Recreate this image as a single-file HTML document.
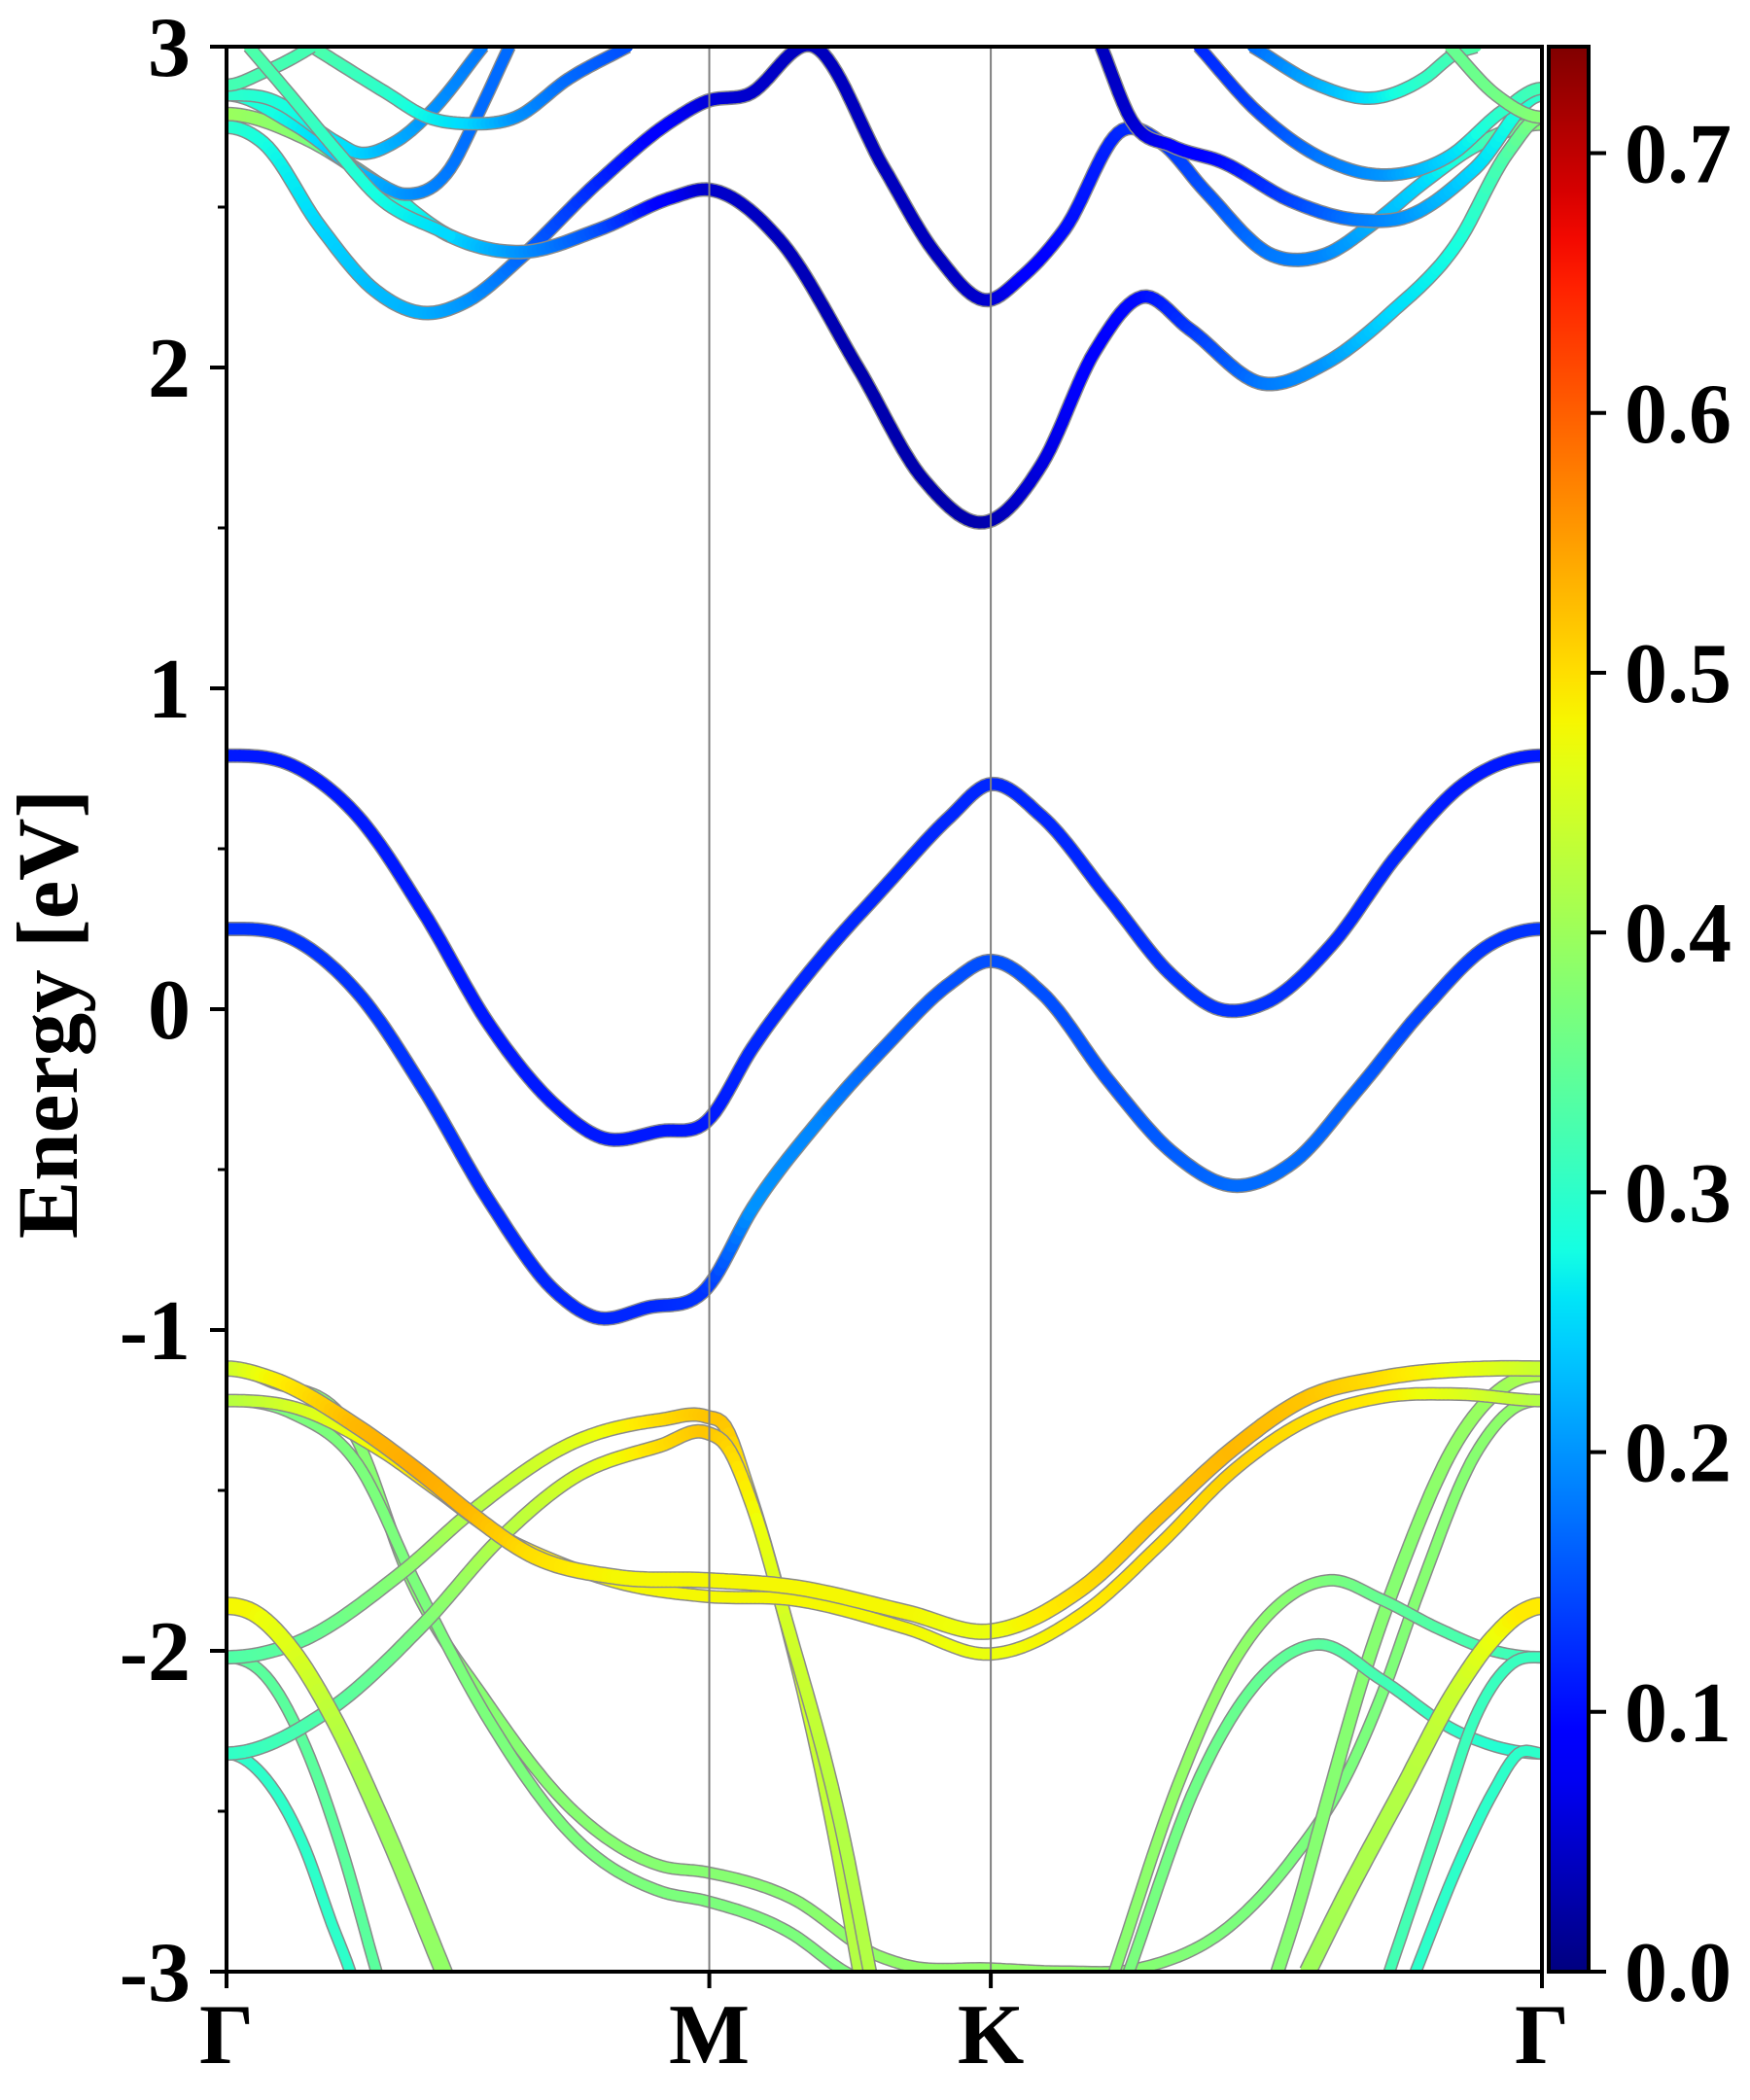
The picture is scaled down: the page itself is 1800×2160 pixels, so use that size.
<!DOCTYPE html>
<html><head><meta charset="utf-8"><style>
html,body{margin:0;padding:0;background:#fff;}
svg{display:block;}
text{font-family:"Liberation Serif",serif;font-weight:bold;fill:#000;}
</style></head><body>
<svg id="chart" width="1800" height="2160" viewBox="0 0 1800 2160" xmlns="http://www.w3.org/2000/svg">
<defs>
<clipPath id="plotclip"><rect x="233" y="48" width="1353" height="1980"/></clipPath>
<linearGradient id="jetgrad" x1="0" y1="1" x2="0" y2="0"></linearGradient>
</defs>
<g id="bands" clip-path="url(#plotclip)"></g>
<g id="axes"></g>
</svg>
<script>
// ---- axis ranges / path nodes ----
const yMin = -3, yMax = 3;
const yTicks = [-3, -2, -1, 0, 1, 2, 3];
const yTickLabels = ["-3", "-2", "-1", "0", "1", "2", "3"];
const kNodes = [0, 0.367, 0.581, 1];
const kNodeLabels = ["Γ", "M", "K", "Γ"];
const cbMax = 0.741;
const cbTicks = [0, 0.1, 0.2, 0.3, 0.4, 0.5, 0.6, 0.7];
const cbTickLabels = ["0.0", "0.1", "0.2", "0.3", "0.4", "0.5", "0.6", "0.7"];

// ---- conduction bands ----
const cb1K = [0,.05,.1,.15,.2,.25,.28,.32,.365,.40,.45,.5,.55,.579,.62,.67,.72,.765,.81,.86,.91,.96,1];
const cb1E = [.25,.22,.05,-.25,-.6,-.88,-.96,-.93,-.87,-.62,-.35,-.12,.08,.15,.05,-.22,-.45,-.55,-.48,-.25,0,.2,.25];
const cb1W = [.13,.13,.13,.13,.12,.12,.12,.12,.13,.2,.19,.16,.15,.15,.15,.15,.16,.17,.17,.16,.14,.13,.13];
const cb2K = [0,.05,.1,.15,.2,.25,.285,.33,.365,.40,.45,.5,.55,.579,.62,.67,.72,.755,.79,.84,.89,.94,1];
const cb2E = [.79,.76,.6,.3,-.05,-.3,-.4,-.38,-.35,-.12,.15,.38,.6,.7,.6,.35,.1,0,.02,.2,.48,.7,.79];
const cb2W = [.11,.11,.11,.11,.11,.11,.11,.11,.11,.12,.12,.12,.12,.12,.12,.12,.13,.13,.13,.12,.12,.11,.11];
const tbAK = [0,.028,.071,.113,.150,.184,.223,.283,.339,.365,.396,.447,.5,.54,.579,.604,.637,.681,.711,.744,.795,.834,.872,.911,.949,1];
const tbAE = [2.75,2.70,2.44,2.24,2.17,2.21,2.34,2.58,2.77,2.83,2.85,3.0,2.62,2.35,2.21,2.28,2.43,2.74,2.70,2.55,2.35,2.35,2.45,2.58,2.69,2.76];
const tbAW = [.3,.28,.25,.23,.22,.2,.17,.12,.08,.06,.05,.04,.04,.04,.05,.08,.1,.12,.13,.15,.18,.19,.22,.25,.3,.38];
const tbBK = [0,.057,.113,.170,.223,.283,.339,.365,.42,.48,.53,.579,.62,.66,.696,.732,.788,.834,.885,.936,.974,1];
const tbBE = [2.79,2.72,2.58,2.41,2.36,2.43,2.53,2.555,2.40,2.0,1.65,1.52,1.7,2.05,2.22,2.12,1.95,2.01,2.17,2.39,2.67,2.78];
const tbBW = [.4,.38,.3,.25,.2,.15,.08,.05,.04,.03,.03,.03,.06,.09,.1,.13,.18,.2,.25,.28,.33,.38];
const tbCK = [0,.05,.113,.136,.17,.19,.215];
const tbCE = [2.85,2.76,2.58,2.54,2.62,2.78,3.0];
const tbCW = [.3,.27,.22,.2,.18,.17,.17];
const tbDK = [0,.03,.085,.099,.127,.156,.195];
const tbDE = [2.85,2.84,2.70,2.67,2.70,2.80,3.0];
const tbDW = [.3,.29,.26,.25,.22,.2,.18];
const tbEK = [.065,.12,.153,.184,.22,.26,.305];
const tbEE = [3.0,2.86,2.78,2.76,2.78,2.9,3.0];
const tbEW = [.33,.3,.27,.25,.2,.17,.15];
const tbFK = [0,.028,.057,.065];
const tbFE = [2.88,2.92,2.98,3.0];
const tbFW = [.32,.32,.32,.32];
const tbGK = [.017,.042,.085,.113,.17];
const tbGE = [3.0,2.88,2.67,2.54,2.41];
const tbGW = [.33,.32,.3,.28,.25];
const trDK = [.665,.688,.719,.757,.809,.86,.897,.949,1];
const trDE = [3.0,2.77,2.69,2.64,2.52,2.46,2.47,2.62,2.85];
const trDW = [.04,.05,.08,.1,.14,.18,.2,.25,.3];
const tr1K = [.739,.783,.834,.88,.93,.97,1];
const tr1E = [3.0,2.8,2.65,2.6,2.66,2.8,2.87];
const tr1W = [.12,.14,.18,.2,.25,.3,.32];
const tr2K = [.78,.83,.872,.91,.935,.95];
const tr2E = [3.0,2.88,2.84,2.9,2.98,3.0];
const tr2W = [.17,.22,.26,.3,.32,.33];
const tr3K = [.93,.965,1];
const tr3E = [3.0,2.85,2.78];
const tr3W = [.35,.36,.38];

// ---- valence bands ----
const v1K = [0,.033,.099,.149,.185,.231,.297,.365,.429,.517,.579,.652,.709,.765,.822,.878,.963,1];
const v1E = [-1.12,-1.15,-1.30,-1.45,-1.57,-1.70,-1.77,-1.78,-1.80,-1.88,-1.94,-1.80,-1.58,-1.37,-1.21,-1.15,-1.12,-1.12];
const v1W = [.44,.48,.53,.54,.53,.5,.48,.48,.48,.48,.47,.5,.52,.53,.52,.5,.46,.44];
const v2K = [0,.05,.115,.16,.2,.25,.3,.365,.429,.517,.579,.652,.709,.765,.822,.878,.937,1];
const v2E = [-1.22,-1.24,-1.37,-1.5,-1.62,-1.72,-1.79,-1.83,-1.84,-1.93,-2.01,-1.88,-1.67,-1.44,-1.28,-1.21,-1.20,-1.22];
const v2W = [.42,.45,.48,.5,.5,.49,.48,.48,.48,.48,.47,.49,.5,.51,.5,.49,.46,.42];
const v3K = [0,.033,.099,.138,.198,.264,.33,.365,.429,.495,.517,.579,.638,.694,.765,.81,.85,.878,.907,.949,.98,1];
const v3E = [-1.12,-1.16,-1.34,-1.76,-2.16,-2.5,-2.67,-2.69,-2.77,-2.95,-2.98,-2.99,-3.0,-2.99,-2.85,-2.65,-2.4,-2.14,-1.81,-1.39,-1.24,-1.22];
const v3W = [.38,.38,.38,.38,.38,.38,.38,.38,.38,.39,.39,.39,.39,.38,.37,.37,.37,.37,.38,.38,.39,.4];
const v4K = [0,.05,.1,.145,.2,.264,.33,.365,.429,.47,.5];
const v4E = [-1.22,-1.26,-1.42,-1.8,-2.22,-2.58,-2.75,-2.78,-2.88,-3.0,-3.06];
const v4W = [.37,.37,.37,.37,.37,.37,.37,.37,.37,.37,.37];
const v5K = [.799,.813,.836,.864,.893,.935,.97,1];
const v5E = [-3.0,-2.82,-2.48,-2.08,-1.74,-1.35,-1.18,-1.14];
const v5W = [.38,.38,.38,.38,.38,.39,.4,.42];
const v6K = [0,.05,.132,.188,.264,.33,.365,.379,.396,.419,.462,.482];
const v6E = [-2.02,-1.98,-1.76,-1.56,-1.35,-1.28,-1.27,-1.30,-1.49,-1.81,-2.57,-3.02];
const v6W = [.33,.34,.38,.42,.46,.5,.52,.52,.49,.46,.43,.42];
const v7K = [0,.076,.149,.208,.264,.33,.365,.38,.40,.425,.47,.49];
const v7E = [-2.32,-2.19,-1.92,-1.65,-1.46,-1.36,-1.32,-1.36,-1.55,-1.9,-2.6,-3.02];
const v7W = [.3,.33,.37,.42,.45,.5,.52,.51,.48,.45,.42,.42];
const v8K = [0,.02,.05,.08,.12,.165,.18];
const v8E = [-1.86,-1.88,-2.0,-2.2,-2.55,-3.0,-3.15];
const v8W = [.48,.48,.46,.43,.4,.39,.39];
const v9K = [0,.03,.06,.09,.114,.125];
const v9E = [-2.02,-2.08,-2.3,-2.65,-3.0,-3.15];
const v9W = [.34,.34,.34,.34,.34,.34];
const v10K = [0,.03,.06,.08,.094,.105];
const v10E = [-2.32,-2.4,-2.62,-2.85,-3.0,-3.15];
const v10W = [.3,.3,.3,.3,.3,.3];
const v11K = [.822,.85,.893,.935,.963,.985,1];
const v11E = [-3.0,-2.77,-2.44,-2.12,-1.96,-1.88,-1.86];
const v11W = [.4,.41,.42,.44,.47,.49,.49];
const v12K = [.675,.723,.765,.808,.839,.878,.921,.963,1];
const v12E = [-3.0,-2.42,-2.04,-1.83,-1.78,-1.84,-1.93,-2.0,-2.02];
const v12W = [.38,.39,.39,.38,.37,.35,.33,.32,.31];
const v13K = [.686,.737,.779,.83,.878,.935,.977,1];
const v13E = [-3.0,-2.42,-2.12,-1.98,-2.09,-2.25,-2.31,-2.32];
const v13W = [.37,.36,.35,.34,.32,.3,.29,.29];
const v14K = [.884,.921,.949,.977,1];
const v14E = [-3.0,-2.55,-2.21,-2.04,-2.02];
const v14W = [.32,.32,.31,.31,.31];
const v15K = [.904,.935,.963,.982,1];
const v15E = [-3.0,-2.68,-2.44,-2.32,-2.32];
const v15W = [.3,.3,.3,.3,.3];

// ---- layout ----
const PL = 233, PR = 1586, PT = 48, PB = 2028;
const CBL = 1593, CBR = 1634;
const xs = k => PL + k * (PR - PL);
const ys = e => PT + (yMax - e) / (yMax - yMin) * (PB - PT);
const cbY = v => PB - v / cbMax * (PB - PT);
const NS = 'http://www.w3.org/2000/svg';

function interp(x, xp, fp) {
  if (x <= xp[0]) return fp[0];
  for (let i = 1; i < xp.length; i++) if (x <= xp[i]) return fp[i - 1] + (fp[i] - fp[i - 1]) * (x - xp[i - 1]) / (xp[i] - xp[i - 1]);
  return fp[fp.length - 1];
}
function jet(t) {
  t = Math.max(0, Math.min(1, t));
  const r = interp(t, [0, .35, .66, .89, 1], [0, 0, 1, 1, .5]);
  const g = interp(t, [0, .125, .375, .64, .91, 1], [0, 0, 1, 1, 0, 0]);
  const b = interp(t, [0, .11, .34, .65, 1], [.5, 1, 1, 0, 0]);
  const c = v => Math.round(255 * v);
  return 'rgb(' + c(r) + ',' + c(g) + ',' + c(b) + ')';
}
function mk(tag, attrs, parent) {
  const el = document.createElementNS(NS, tag);
  for (const a in attrs) el.setAttribute(a, attrs[a]);
  parent.appendChild(el);
  return el;
}

const bandDefs = [
  ['conduction-band-1', cb1K, cb1E, cb1W, 12], ['conduction-band-2', cb2K, cb2E, cb2W, 12],
  ['upper-band-a', tbAK, tbAE, tbAW, 12], ['upper-band-b', tbBK, tbBE, tbBW, 12],
  ['upper-band-c', tbCK, tbCE, tbCW, 11], ['upper-band-d', tbDK, tbDE, tbDW, 11],
  ['upper-band-e', tbEK, tbEE, tbEW, 11], ['upper-band-f', tbFK, tbFE, tbFW, 11],
  ['upper-band-g', tbGK, tbGE, tbGW, 11], ['upper-band-right-dark', trDK, trDE, trDW, 12],
  ['upper-band-right-1', tr1K, tr1E, tr1W, 11], ['upper-band-right-2', tr2K, tr2E, tr2W, 11],
  ['upper-band-right-3', tr3K, tr3E, tr3W, 11],
  ['valence-band-3', v3K, v3E, v3W, 10], ['valence-band-4', v4K, v4E, v4W, 10],
  ['valence-band-5', v5K, v5E, v5W, 12], ['valence-band-9', v9K, v9E, v9W, 10],
  ['valence-band-10', v10K, v10E, v10W, 10], ['valence-band-12', v12K, v12E, v12W, 10],
  ['valence-band-13', v13K, v13E, v13W, 10], ['valence-band-14', v14K, v14E, v14W, 10],
  ['valence-band-15', v15K, v15E, v15W, 10],
  ['valence-band-6', v6K, v6E, v6W, 12], ['valence-band-7', v7K, v7E, v7W, 12],
  ['valence-band-8', v8K, v8E, v8W, 16], ['valence-band-11', v11K, v11E, v11W, 16],
  ['valence-band-2', v2K, v2E, v2W, 11], ['valence-band-1', v1K, v1E, v1W, 14]
];

// cubic Hermite interpolation in k with finite-difference slopes
function sampleBand(K, E, W) {
  const n = K.length;
  const m = [];
  for (let i = 0; i < n; i++) {
    if (i === 0) m.push((K[0] <= 0.0001) ? 0 : (E[1] - E[0]) / (K[1] - K[0]));
    else if (i === n - 1) m.push((K[n - 1] >= 0.9999) ? 0 : (E[n - 1] - E[n - 2]) / (K[n - 1] - K[n - 2]));
    else {
      const d0 = (E[i] - E[i - 1]) / (K[i] - K[i - 1]), d1 = (E[i + 1] - E[i]) / (K[i + 1] - K[i]);
      const h0 = K[i] - K[i - 1], h1 = K[i + 1] - K[i];
      m.push((d0 * h1 + d1 * h0) / (h0 + h1));
    }
  }
  const out = [];
  for (let i = 0; i < n - 1; i++) {
    const h = K[i + 1] - K[i];
    const SUB = Math.max(4, Math.ceil(h * 300));
    for (let s = 0; s < SUB; s++) {
      const t = s / SUB, t2 = t * t, t3 = t2 * t;
      const e = (2 * t3 - 3 * t2 + 1) * E[i] + (t3 - 2 * t2 + t) * h * m[i] + (-2 * t3 + 3 * t2) * E[i + 1] + (t3 - t2) * h * m[i + 1];
      out.push([xs(K[i] + h * t), ys(e), W[i] + (W[i + 1] - W[i]) * t]);
    }
  }
  out.push([xs(K[n - 1]), ys(E[n - 1]), W[n - 1]]);
  return out;
}

const bandsG = document.getElementById('bands');
bandDefs.forEach(def => {
  const [name, K, E, W, width] = def;
  const g = mk('g', {}, bandsG);
  
  
  const pts = sampleBand(K, E, W);
  const d = 'M' + pts.map(p => p[0].toFixed(1) + ',' + p[1].toFixed(1)).join('L');
  const outline = mk('path', { d: d, fill: 'none', stroke: '#8a8a8a', 'stroke-width': width + 3, 'stroke-linejoin': 'round' }, g);
  
  
  for (let i = 0; i < pts.length - 1; i++) {
    const w = (pts[i][2] + pts[i + 1][2]) / 2;
    const seg = mk('line', { x1: pts[i][0].toFixed(1), y1: pts[i][1].toFixed(1), x2: pts[i + 1][0].toFixed(1), y2: pts[i + 1][1].toFixed(1), stroke: jet(w / cbMax), 'stroke-width': width, 'stroke-linecap': 'round' }, g);
    
    
  }
});

// ---- axes ----
const ax = document.getElementById('axes');
kNodes.slice(1, 3).forEach((k, i) => {
  const l = mk('line', { x1: xs(k), y1: PT, x2: xs(k), y2: PB, stroke: '#808080', 'stroke-width': 2 }, ax);
  
  
});
const frame = mk('rect', { x: PL, y: PT, width: PR - PL, height: PB - PT, fill: 'none', stroke: '#000', 'stroke-width': 4 }, ax);


yTicks.forEach((v, i) => {
  const t = mk('line', { x1: PL - 17, y1: ys(v), x2: PL, y2: ys(v), stroke: '#000', 'stroke-width': 4 }, ax);
  
  
  const tx = mk('text', { x: 196, y: ys(v) + 30, 'font-size': 88, 'text-anchor': 'end' }, ax);
  tx.textContent = yTickLabels[i];
  
  
});
for (let v = yMin + 0.5; v < yMax; v += 1) {
  const t = mk('line', { x1: PL - 9, y1: ys(v), x2: PL, y2: ys(v), stroke: '#000', 'stroke-width': 3 }, ax);
  
  
}
kNodes.forEach((k, i) => {
  const t = mk('line', { x1: xs(k), y1: PB, x2: xs(k), y2: PB + 17, stroke: '#000', 'stroke-width': 4 }, ax);
  
  
  const tx = mk('text', { x: xs(k), y: 2122, 'font-size': 88, 'text-anchor': 'middle' }, ax);
  tx.textContent = kNodeLabels[i];
  
  
});
const yt = mk('text', { x: 0, y: 0, 'font-size': 89, 'text-anchor': 'middle', transform: 'translate(79,1043) rotate(-90)' }, ax);
yt.textContent = 'Energy [eV]';



// ---- colorbar ----
const grad = document.getElementById('jetgrad');
for (let i = 0; i <= 40; i++) {
  mk('stop', { offset: (i / 40), 'stop-color': jet(i / 40) }, grad);
}
const cb = mk('rect', { x: CBL, y: PT, width: CBR - CBL, height: PB - PT, fill: 'url(#jetgrad)', stroke: '#000', 'stroke-width': 4 }, ax);


cbTicks.forEach((v, i) => {
  const t = mk('line', { x1: CBR, y1: cbY(v), x2: CBR + 18, y2: cbY(v), stroke: '#000', 'stroke-width': 4 }, ax);
  
  
  const tx = mk('text', { x: 1671, y: cbY(v) + 30, 'font-size': 88 }, ax);
  tx.textContent = cbTickLabels[i];
  
  
});
</script>
</body></html>
